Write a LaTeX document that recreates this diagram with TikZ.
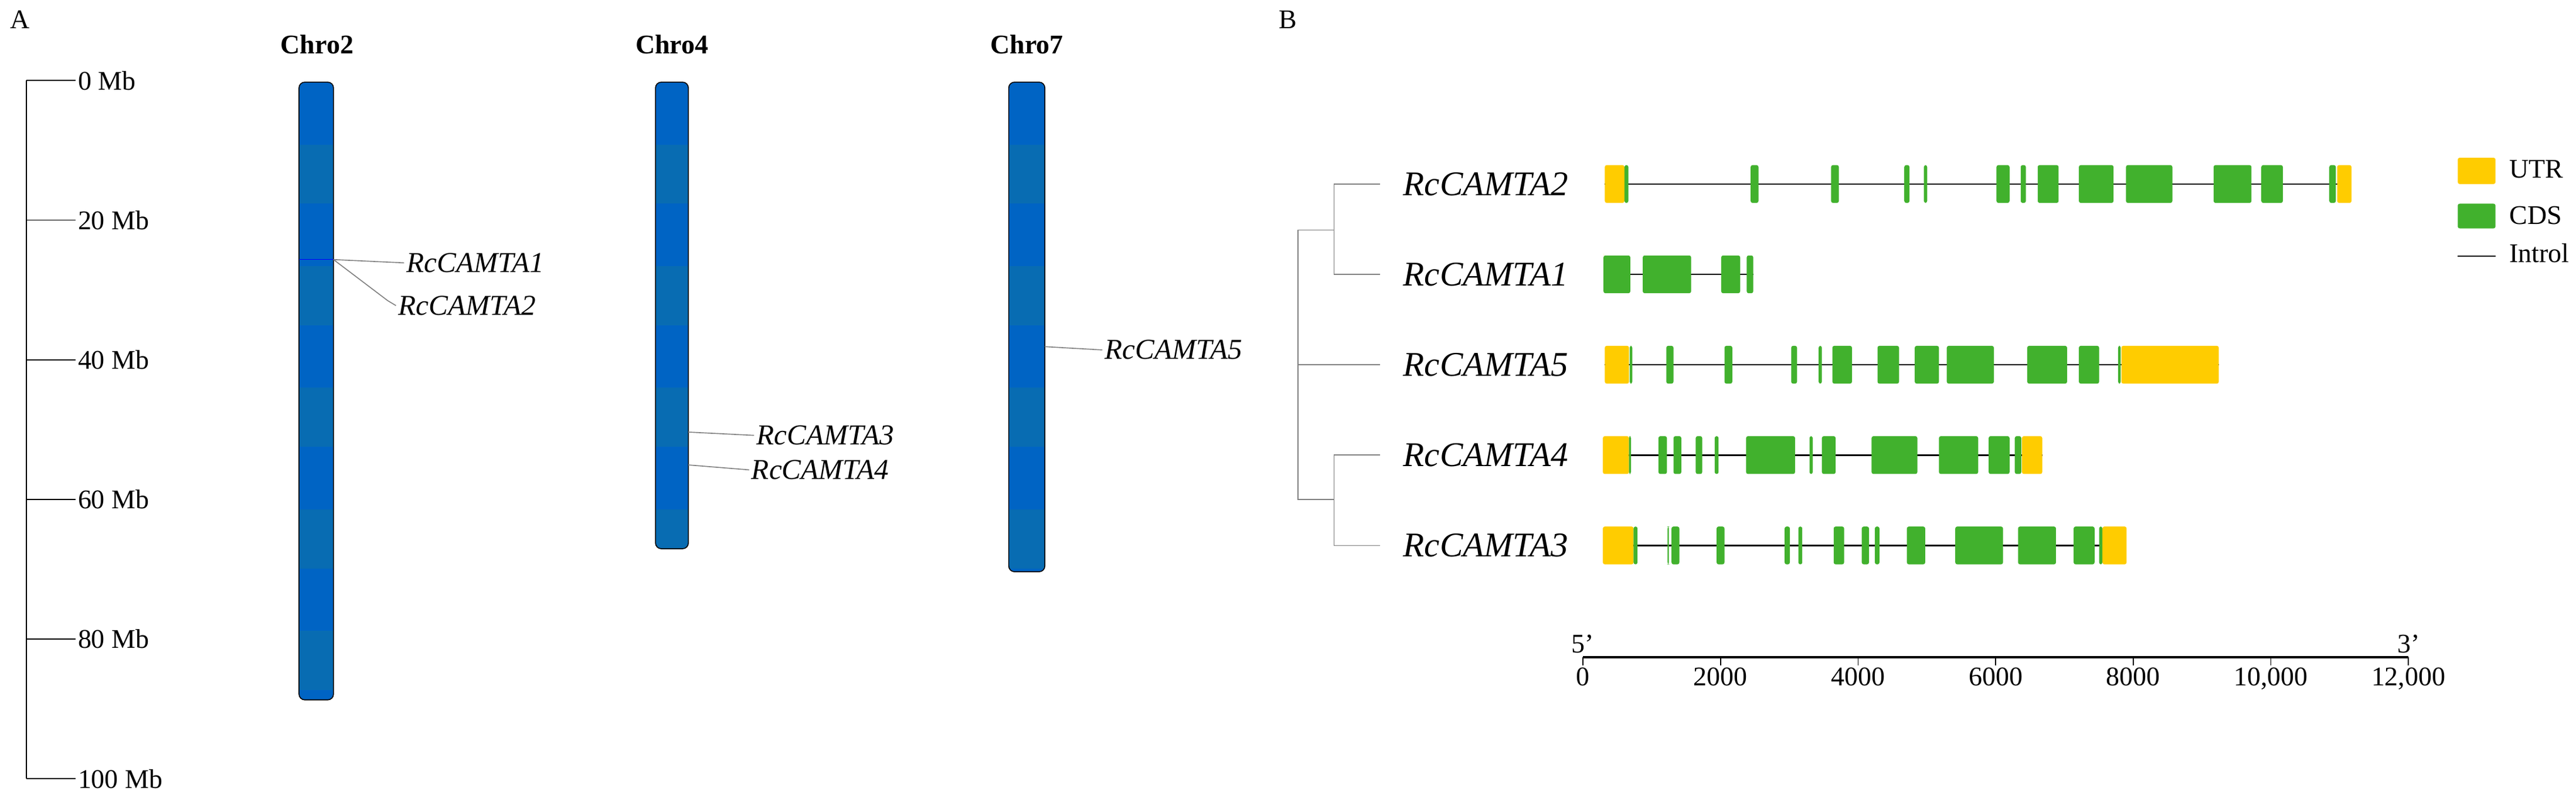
\documentclass[tikz,border=0pt]{standalone}
\usepackage{fontspec}
\setmainfont{Liberation Serif}
\usepackage{xcolor}
\definecolor{chrblue}{RGB}{0, 100, 196}
\definecolor{chrband}{RGB}{8, 108, 178}
\definecolor{utrgold}{RGB}{255, 204, 0}
\definecolor{cdsgreen}{RGB}{65, 177, 45}
\usepackage{tikz}
\usetikzlibrary{positioning, calc}

\tikzset{
  gene/.style={font=\fontsize{18}{18}\selectfont\itshape, anchor=west},
  locus/.style={font=\fontsize{15}{15}\selectfont\itshape, anchor=west, inner sep=1pt},
  tick/.style={font=\fontsize{14}{14}\selectfont, anchor=west, inner sep=1pt},
  chrtitle/.style={font=\fontsize{14}{14}\selectfont\bfseries},
  utr/.style={fill=utrgold, rounded corners=1pt},
  cds/.style={fill=cdsgreen, rounded corners=1pt},
}

\begin{document}
\begin{tikzpicture}[x=0.3mm, y=-0.3mm, line width=0.5pt]
  \useasboundingbox (0,0) rectangle (1568,488);
  \node[font=\fontsize{14}{14}\selectfont] (labA) at (12,12) {A};
  \node[font=\fontsize{14}{14}\selectfont] (labB) at (784,12) {B};

  % scale bar
  \draw (16,49) -- (16,474);
  \foreach \v [count=\i from 0] in {0,20,40,60,80,100} {
    \draw (16,49+85*\i) -- (46,49+85*\i) coordinate (t\i);
    \node[tick] (tl\i) at (t\i) {\v~Mb};
  }

  % chromosomes
  \foreach \name/\xa/\xb/\yb in {c2/182/203/426, c4/399/419/334, c7/614/636/348} {
    \begin{scope}
      \path[clip, rounded corners=3pt] (\xa,50) rectangle (\xb,\yb);
      \fill[chrblue] (\xa,50) rectangle (\xb,\yb);
      \foreach \k in {0,...,9} {
        \fill[chrband] (\xa,88+\k*74) rectangle (\xb,124+\k*74);
      }
    \end{scope}
    \draw[rounded corners=3pt] (\xa,50) rectangle (\xb,\yb);
    \coordinate (\name) at ({(\xa+\xb)/2},50);
  }
  \node[chrtitle] (h2) at (193,27) {Chro2};
  \node[chrtitle] (h4) at (409,27) {Chro4};
  \node[chrtitle] (h7) at (625,27) {Chro7};

  % gene positions
  \draw[blue, line width=0.4pt] (182,158) -- (203,158);
  \coordinate (p1) at (203,158);
  \node[locus] (m1) at (246,160) {RcCAMTA1};
  \node[locus] (m2) at (241,186) {RcCAMTA2};
  \draw[gray] (p1) -- (m1.west);
  \draw[gray] (p1) -- (236,183) -- (m2.west);
  \coordinate (p3) at (419,263);
  \coordinate (p4) at (419,283);
  \node[locus] (m3) at (459,265) {RcCAMTA3};
  \node[locus] (m4) at (456,286) {RcCAMTA4};
  \draw[gray] (p3) -- (m3.west);
  \draw[gray] (p4) -- (m4.west);
  \coordinate (p5) at (636,211);
  \node[locus] (m5) at (671,213) {RcCAMTA5};
  \draw[gray] (p5) -- (m5.west);

  % tree
  \foreach \g/\y in {2/112,1/167,5/222,4/277,3/332} {
    \node[gene] (g\g) at (850,\y) {RcCAMTA\g};
  }
  \draw[gray] (840,112) -| (812,167) -- (840,167);
  \draw[gray] (840,277) -| (812,332) -- (840,332);
  \draw[gray] (812,140) -| (790,304) -- (812,304);
  \draw[gray] (790,222) -- (840,222);

  % gene structures (zoomed units)
  \begin{scope}[xshift=945*0.3mm, xscale=0.398]
    \foreach \y/\a/\b/\ulist/\clist in {
      112/80/1222/{80/110,1200/1222}/{110/116,303/315,426/438,538/546,568/573,679/699,716/724,742/774,805/858,877/948,1011/1069,1084/1117,1188/1198},
      167/78/307/{78/78}/{78/119,138/212,258/287,297/307},
      222/80/1019/{80/117,870/1019}/{118/122,174/185,263/275,365/374,407/412,428/458,497/530,554/591,603/675,726/787,805/836,865/869},
      277/77/749/{77/117,718/749}/{117/120,162/175,185/197,219/229,248/254,296/371,393/398,412/433,488/558,591/651,667/699,707/717},
      332/77/878/{77/124,841/878}/{124/130,176/178,182/194,251/263,355/363,376/382,430/446,473/484,493/500,542/570,616/689,712/770,797/829,836/841}} {
      \draw[black, line width=0.8pt] (\a,\y) -- (\b,\y);
      \foreach \s/\e in \ulist { \fill[utr] (\s,\y-11.5) rectangle (\e,\y+11.5); }
      \foreach \s/\e in \clist { \fill[cds] (\s,\y-11.5) rectangle (\e,\y+11.5); }
    }
  \end{scope}

  % legend
  \fill[utr] (1496,96) rectangle (1519,112);
  \node[tick] (lu) at (1526,103) {UTR};
  \fill[cds] (1496,124) rectangle (1519,139);
  \node[tick] (lc) at (1526,131) {CDS};
  \draw[line width=0.8pt] (1496,156) -- (1519,156) coordinate (li);
  \node[tick] (lt) at (1526,154) {Introl};

  % bp axis
  \coordinate (ax0) at (963.5,400);
  \coordinate (ax1) at (1466,400);
  \draw[line width=1.2pt] (ax0) -- (ax1);
  \foreach \v [count=\i from 0] in {0,2000,4000,6000,8000,{10,000},{12,000}} {
    \draw (963.5+83.75*\i,400) -- (963.5+83.75*\i,405) coordinate (a\i);
    \node[font=\fontsize{14}{14}\selectfont, below=0pt of a\i, inner sep=1pt] (al\i) {\v};
  }
  \node[font=\fontsize{14}{14}\selectfont, above=1pt of ax0, inner sep=1pt] (five) {5'};
  \node[font=\fontsize{14}{14}\selectfont, above=1pt of ax1, inner sep=1pt] (three) {3'};
\end{tikzpicture}
\end{document}
